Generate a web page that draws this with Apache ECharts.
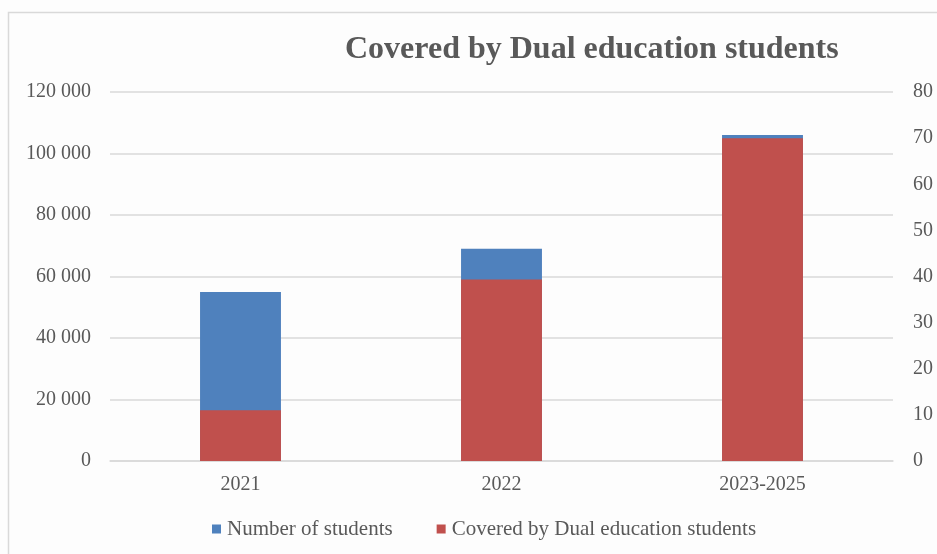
<!DOCTYPE html>
<html>
<head>
<meta charset="utf-8">
<script src="https://cdn.jsdelivr.net/npm/echarts@6/dist/echarts.min.js"></script>
<style>
html,body{margin:0;padding:0;background:#ffffff;}
#c{width:937px;height:554px;}
</style>
</head>
<body>
<div id="c"></div>
<script>
const categories = ['2021', '2022', '2023-2025'];
const numberOfStudents = [55000, 69000, 106000];
const coveredByDual = [16500, 59000, 105000];
const leftTicks = { min: 0, max: 120000, interval: 20000 };
const rightTicks = { min: 0, max: 80, interval: 10 };

const FONT = '"Liberation Serif", serif';
const TXT = '#595959';

const chart = echarts.init(document.getElementById('c'), null, { renderer: 'canvas' });
chart.setOption({
  backgroundColor: '#fdfdfd',
  animation: false,
  graphic: [{
    type: 'rect',
    shape: { x: 8.5, y: 12.5, width: 940, height: 560 },
    style: { fill: 'none', stroke: '#d9d9d9', lineWidth: 1.5 },
    silent: true
  }],
  title: {
    text: 'Covered by Dual education students',
    left: 340,
    top: 29,
    textStyle: { fontFamily: FONT, fontSize: 32, fontWeight: 'bold', color: TXT }
  },
  legend: {
    top: 513,
    left: 207,
    itemWidth: 9,
    itemHeight: 9,
    itemGap: 44,
    icon: 'rect',
    textStyle: { fontFamily: FONT, fontSize: 21, lineHeight: 22, color: TXT, padding: [0, 0, 0, 1] },
    data: ['Number of students', 'Covered by Dual education students']
  },
  grid: { left: 110, right: 44, top: 92, bottom: 93, containLabel: false },
  xAxis: {
    type: 'category',
    data: categories,
    axisLine: { show: true, lineStyle: { color: '#d9d9d9', width: 1.5 } },
    axisTick: { show: false },
    axisLabel: { fontFamily: FONT, fontSize: 20, color: TXT, margin: 14 }
  },
  yAxis: [{
    type: 'value',
    min: leftTicks.min, max: leftTicks.max, interval: leftTicks.interval,
    axisLine: { show: false },
    axisTick: { show: false },
    splitLine: { lineStyle: { color: '#d9d9d9', width: 1.5 } },
    axisLabel: {
      fontFamily: FONT, fontSize: 20, color: TXT, margin: 19,
      formatter: v => String(v).replace(/\B(?=(\d{3})+(?!\d))/g, ' ')
    }
  }, {
    type: 'value',
    position: 'right',
    min: rightTicks.min, max: rightTicks.max, interval: rightTicks.interval,
    axisLine: { show: false },
    axisTick: { show: false },
    splitLine: { show: false },
    axisLabel: { fontFamily: FONT, fontSize: 20, color: TXT, margin: 20 }
  }],
  series: [{
    name: 'Number of students',
    type: 'bar',
    yAxisIndex: 0,
    data: numberOfStudents,
    barWidth: '31%',
    barGap: '-100%',
    itemStyle: { color: '#4f81bd' }
  }, {
    name: 'Covered by Dual education students',
    type: 'bar',
    yAxisIndex: 0,
    data: coveredByDual,
    barWidth: '31%',
    itemStyle: { color: '#c0504d' }
  }]
});
</script>
</body>
</html>
